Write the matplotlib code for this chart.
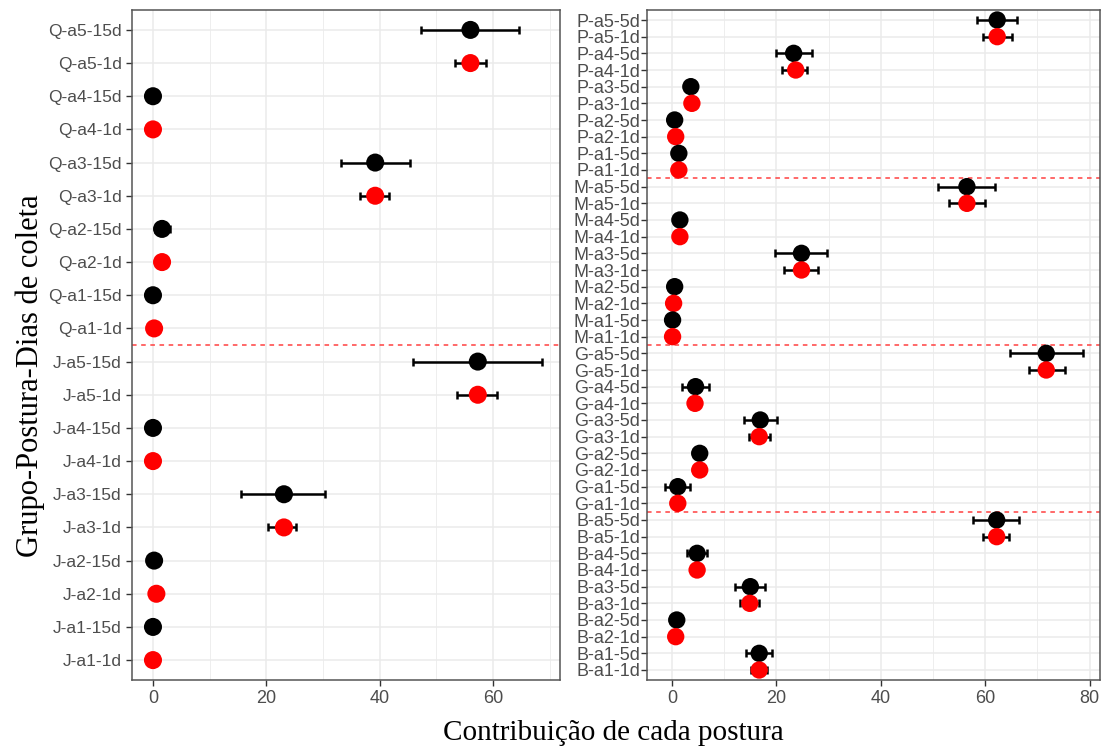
import numpy as np
import matplotlib
matplotlib.use("Agg")
import matplotlib.pyplot as plt

# Left panel (Q, J groups), listed top to bottom
left_labels = ["Q-a5-15d", "Q-a5-1d", "Q-a4-15d", "Q-a4-1d", "Q-a3-15d", "Q-a3-1d",
               "Q-a2-15d", "Q-a2-1d", "Q-a1-15d", "Q-a1-1d",
               "J-a5-15d", "J-a5-1d", "J-a4-15d", "J-a4-1d", "J-a3-15d", "J-a3-1d",
               "J-a2-15d", "J-a2-1d", "J-a1-15d", "J-a1-1d"]
left_mean = [56.0, 56.0, 0.0, 0.0, 39.2, 39.2, 1.6, 1.6, 0.0, 0.2,
             57.3, 57.3, 0.0, 0.0, 23.1, 23.1, 0.2, 0.6, 0.0, 0.0]
left_lo = [47.3, 53.2, np.nan, np.nan, 33.1, 36.5, 0.3, np.nan, np.nan, np.nan,
           45.9, 53.7, np.nan, np.nan, 15.6, 20.3, np.nan, np.nan, np.nan, np.nan]
left_hi = [64.5, 58.7, np.nan, np.nan, 45.4, 41.6, 3.0, np.nan, np.nan, np.nan,
           68.6, 60.6, np.nan, np.nan, 30.4, 25.3, np.nan, np.nan, np.nan, np.nan]

# Right panel (P, M, G, B groups), listed top to bottom
right_labels = ["P-a5-5d", "P-a5-1d", "P-a4-5d", "P-a4-1d", "P-a3-5d", "P-a3-1d",
                "P-a2-5d", "P-a2-1d", "P-a1-5d", "P-a1-1d",
                "M-a5-5d", "M-a5-1d", "M-a4-5d", "M-a4-1d", "M-a3-5d", "M-a3-1d",
                "M-a2-5d", "M-a2-1d", "M-a1-5d", "M-a1-1d",
                "G-a5-5d", "G-a5-1d", "G-a4-5d", "G-a4-1d", "G-a3-5d", "G-a3-1d",
                "G-a2-5d", "G-a2-1d", "G-a1-5d", "G-a1-1d",
                "B-a5-5d", "B-a5-1d", "B-a4-5d", "B-a4-1d", "B-a3-5d", "B-a3-1d",
                "B-a2-5d", "B-a2-1d", "B-a1-5d", "B-a1-1d"]
right_mean = [62.3, 62.3, 23.3, 23.7, 3.6, 3.8, 0.5, 0.7, 1.3, 1.3,
              56.5, 56.5, 1.5, 1.5, 24.8, 24.8, 0.5, 0.3, 0.1, 0.1,
              71.7, 71.7, 4.5, 4.4, 16.9, 16.7, 5.3, 5.3, 1.1, 1.1,
              62.2, 62.2, 4.8, 4.8, 15.0, 14.9, 0.9, 0.7, 16.7, 16.7]
right_lo = [58.5, 59.5, 20.0, 21.0, np.nan, np.nan, np.nan, np.nan, np.nan, np.nan,
            50.9, 53.1, np.nan, np.nan, 19.7, 21.5, np.nan, np.nan, np.nan, np.nan,
            64.7, 68.3, 1.9, np.nan, 13.7, 14.7, np.nan, np.nan, -1.3, np.nan,
            57.7, 59.5, 2.8, np.nan, 12.1, 13.0, np.nan, np.nan, 14.2, 15.2]
right_hi = [66.1, 65.1, 26.8, 25.9, np.nan, np.nan, np.nan, np.nan, np.nan, np.nan,
            61.9, 59.9, np.nan, np.nan, 29.7, 27.9, np.nan, np.nan, np.nan, np.nan,
            78.7, 75.2, 7.1, np.nan, 20.2, 18.8, np.nan, np.nan, 3.5, np.nan,
            66.5, 64.5, 6.7, np.nan, 17.9, 16.7, np.nan, np.nan, 19.2, 18.1]

left_sep = [10]
right_sep = [10, 20, 30]

GRID = "#EBEBEB"
TICK = "#4D4D4D"


def draw_panel(ax, labels, mean, lo, hi, seps, xlim, ms):
    n = len(labels)
    ypos = np.arange(n)[::-1]
    mean = np.array(mean)
    lo = np.array(lo)
    hi = np.array(hi)
    colors = ["red" if lab.endswith("-1d") else "black" for lab in labels]

    for y, m, l, h in zip(ypos, mean, lo, hi):
        if not np.isnan(l):
            ax.errorbar(m, y, xerr=[[m - l], [h - m]], fmt="none", ecolor="black",
                        elinewidth=1.8, capsize=3, capthick=1.8, zorder=2)
    ax.scatter(mean, ypos, s=ms ** 2, c=colors, zorder=3, linewidths=0)

    for s in seps:
        ax.axhline(n - s - 0.5, color="#FF4040", ls=(0, (3, 3)), lw=1.1, zorder=1)

    ax.set_yticks(ypos)
    ax.set_yticklabels(labels)
    ax.set_ylim(-0.6, n - 0.4)
    ax.set_xlim(*xlim)
    ax.set_xticks(np.arange(0, xlim[1], 20))
    ax.set_xticks(np.arange(10, xlim[1], 20), minor=True)
    ax.grid(True, which="major", color=GRID, lw=1.1, zorder=0)
    ax.grid(True, which="minor", axis="x", color=GRID, lw=0.6, zorder=0)
    ax.set_axisbelow(True)
    ax.tick_params(axis="both", which="major", colors="#333333", labelcolor=TICK,
                   labelsize=13, length=4, width=1)
    ax.tick_params(axis="x", which="minor", length=0)
    for sp in ax.spines.values():
        sp.set_color("#555555")
        sp.set_linewidth(1.1)


plt.rcParams["font.family"] = ["Liberation Sans", "DejaVu Sans"]

fig = plt.figure(figsize=(11.07, 7.51), dpi=100)
W, H = 1107, 751
ax1 = fig.add_axes([132 / W, 71 / H, 428 / W, 670 / H])
ax2 = fig.add_axes([647 / W, 71 / H, 453 / W, 670 / H])

draw_panel(ax1, left_labels, left_mean, left_lo, left_hi, left_sep, (-3.7, 71.8), 13)
draw_panel(ax2, right_labels, right_mean, right_lo, right_hi, right_sep, (-4.8, 82.0), 12.5)
ax1.tick_params(axis="y", labelsize=12.5)
ax2.tick_params(axis="y", labelsize=13, pad=1)

fig.text(0.027, 0.5, "Grupo-Postura-Dias de coleta", rotation=90, va="center", ha="center",
         fontsize=22, family="Liberation Serif")
fig.text(0.554, 0.024, "Contribuição de cada postura", va="center", ha="center",
         fontsize=21, family="Liberation Serif")

fig.savefig("out.png", dpi=100)
